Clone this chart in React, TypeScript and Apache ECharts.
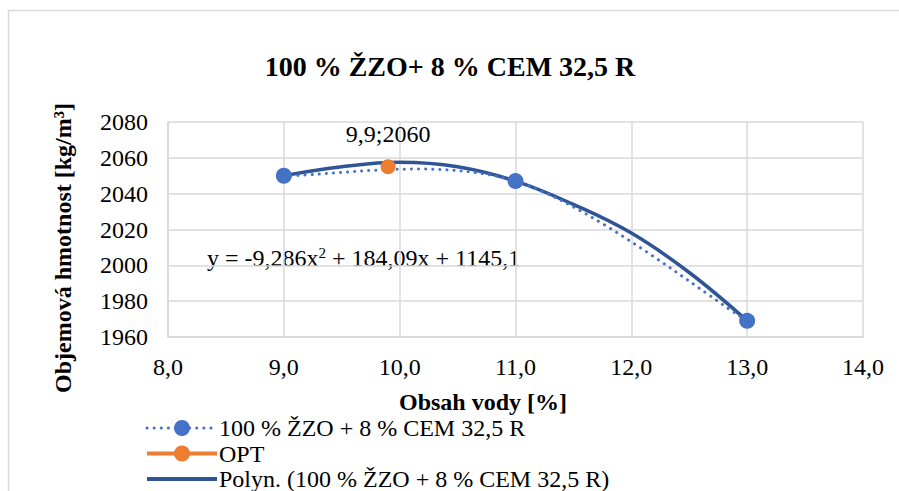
import React, { useEffect, useRef } from "react";
import * as echarts from "echarts";

const titleText = "100 % ŽZO+ 8 % CEM 32,5 R";
const xAxisTitle = "Obsah vody [%]";
const yAxisTitle = "Objemová hmotnost [kg/m³]";
const seriesNames = ["100 % ŽZO + 8 % CEM 32,5 R", "OPT", "Polyn. (100 % ŽZO + 8 % CEM 32,5 R)"];

const waterContent = [9.0, 11.0, 13.0];
const density = [2050, 2047, 1969];

const optX = [9.9];
const optY = [2055];
const optLabel = "9,9;2060";

const trendX = [9.0, 9.5, 10.0, 10.5, 11.0, 11.5, 12.0, 12.5, 13.0];
const trendY = [2050, 2055, 2057.5, 2055, 2047, 2034, 2018, 1996, 1969];

const equationParts = ["y = -9,286x", "2", " + 184,09x + 1145,1"];

const FONT = "Liberation Serif";

const BLUE = "#4472C4";
const ORANGE = "#ED7D31";
const DARK = "#2F5597";

export default function App() {
  const ref = useRef<HTMLDivElement>(null);
  useEffect(() => {
    if (!ref.current) return;
    const chart = echarts.init(ref.current, null, { renderer: "svg" });
    const fmt = (v: number) => v.toFixed(1).replace(".", ",");

    // Excel-like smoothed line (cardinal bezier) through the data points
    const renderSmooth = (params: any, api: any) => {
      if (params.dataIndex !== 0) return null;
      const pts = waterContent.map((x, i) => api.coord([x, density[i]]));
      const n = pts.length;
      const children: any[] = [];
      for (let i = 0; i < n - 1; i++) {
        const p0 = pts[Math.max(i - 1, 0)];
        const p1 = pts[i];
        const p2 = pts[i + 1];
        const p3 = pts[Math.min(i + 2, n - 1)];
        const c1 = [p1[0] + (p2[0] - p0[0]) / 6, p1[1] + (p2[1] - p0[1]) / 6];
        const c2 = [p2[0] - (p3[0] - p1[0]) / 6, p2[1] - (p3[1] - p1[1]) / 6];
        children.push({
          type: "bezierCurve",
          shape: {
            x1: p1[0], y1: p1[1], x2: p2[0], y2: p2[1],
            cpx1: c1[0], cpy1: c1[1], cpx2: c2[0], cpy2: c2[1],
          },
          style: { stroke: BLUE, lineWidth: 3, lineDash: [0.1, 7], lineCap: "round", fill: "none" },
        });
      }
      return { type: "group", children };
    };

    chart.setOption({
      animation: false,
      backgroundColor: "#ffffff",
      textStyle: { fontFamily: FONT },
      title: {
        text: titleText,
        left: 445,
        top: 47,
        textAlign: "center",
        textStyle: { fontFamily: FONT, fontSize: 28, fontWeight: "bold", color: "#000" },
      },
      grid: { left: 168, right: 36, top: 122, bottom: 154 },
      xAxis: {
        type: "value",
        min: 8,
        max: 14,
        interval: 1,
        axisLine: { show: true, lineStyle: { color: "#d9d9d9", width: 1.5 } },
        axisTick: { show: false },
        splitLine: { show: true, lineStyle: { color: "#d9d9d9", width: 1.5 } },
        axisLabel: { formatter: fmt, color: "#000", fontSize: 24, fontFamily: FONT, margin: 18 },
      },
      yAxis: {
        type: "value",
        min: 1960,
        max: 2080,
        interval: 20,
        axisLine: { show: true, lineStyle: { color: "#d9d9d9", width: 1.5 } },
        axisTick: { show: false },
        splitLine: { show: true, lineStyle: { color: "#d9d9d9", width: 1.5 } },
        axisLabel: { formatter: (v: number) => String(v), color: "#000", fontSize: 24, fontFamily: FONT, margin: 20 },
      },
      legend: {
        orient: "vertical",
        left: 140,
        top: 411,
        height: 90,
        itemWidth: 70,
        itemHeight: 20,
        itemGap: 1.5,
        data: [
          {
            name: seriesNames[0],
            lineStyle: { color: BLUE, width: 3, type: [0.1, 7], cap: "round", opacity: 1 },
          },
          {
            name: seriesNames[1],
            lineStyle: { color: ORANGE, width: 4, opacity: 1 },
          },
          {
            name: seriesNames[2],
            itemStyle: { opacity: 0 },
            lineStyle: { color: DARK, width: 4, opacity: 1 },
          },
        ],
        textStyle: { fontFamily: FONT, fontSize: 24, color: "#000", lineHeight: 24, padding: [0, 0, 0, -3] },
      },
      series: [
        {
          name: seriesNames[2],
          type: "line",
          data: trendX.map((x, i) => [x, trendY[i]]),
          smooth: 0.4,
          showSymbol: false,
          symbol: "none",
          lineStyle: { color: DARK, width: 3.5 },
          itemStyle: { color: DARK },
          z: 3,
        },
        {
          name: seriesNames[0] + "_curve",
          type: "custom",
          data: waterContent.map((x, i) => [x, density[i]]),
          renderItem: renderSmooth,
          silent: true,
          z: 4,
        },
        {
          name: seriesNames[0],
          type: "line",
          data: waterContent.map((x, i) => [x, density[i]]),
          symbol: "circle",
          symbolSize: 16,
          lineStyle: { color: BLUE, width: 3, opacity: 0 },
          itemStyle: { color: BLUE },
          z: 5,
        },
        {
          name: seriesNames[1],
          type: "line",
          data: optX.map((x, i) => [x, optY[i]]),
          symbol: "circle",
          symbolSize: 15,
          lineStyle: { color: ORANGE, width: 3 },
          itemStyle: { color: ORANGE },
          label: {
            show: true,
            position: "top",
            distance: 13,
            formatter: () => optLabel,
            fontFamily: FONT,
            fontSize: 24,
            color: "#000",
          },
          z: 6,
        },
      ],
      graphic: [
        {
          type: "rect",
          shape: { x: 8.5, y: 10.5, width: 1000, height: 1000 },
          style: { fill: "none", stroke: "#d9d9d9", lineWidth: 1.5 },
          silent: true,
          z: -1,
        },
        {
          type: "text",
          x: 207,
          y: 258,
          style: {
            text: `${equationParts[0]}{sup|${equationParts[1]}}${equationParts[2]}`,
            fontFamily: FONT,
            fontSize: 24,
            fill: "#000",
            verticalAlign: "middle",
            rich: { sup: { fontSize: 15, fontFamily: FONT, verticalAlign: "top", padding: [0, 0, 10, 0] } },
          },
        },
        {
          type: "text",
          x: 483,
          y: 402,
          style: {
            text: xAxisTitle,
            fontFamily: FONT,
            fontSize: 24,
            fontWeight: "bold",
            fill: "#000",
            align: "center",
            verticalAlign: "middle",
          },
        },
        {
          type: "text",
          x: 63,
          y: 248,
          rotation: Math.PI / 2,
          style: {
            text: yAxisTitle,
            fontFamily: FONT,
            fontSize: 24,
            fontWeight: "bold",
            fill: "#000",
            align: "center",
            verticalAlign: "middle",
          },
        },
      ],
    });
    return () => chart.dispose();
  }, []);
  return (
    <div
      ref={ref}
      style={{ position: "fixed", left: 0, top: 0, width: 899, height: 491 }}
    />
  );
}
